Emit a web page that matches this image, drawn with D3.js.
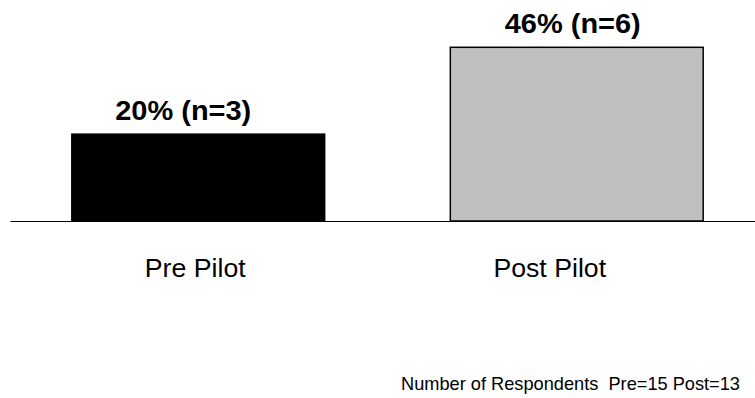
<!DOCTYPE html>
<html>
<head>
<meta charset="utf-8">
<script src="https://cdn.jsdelivr.net/npm/d3@7"></script>
<style>
  html, body { margin: 0; padding: 0; background: #fff; }
  svg { display: block; font-family: "Liberation Sans", Arial, sans-serif; }
</style>
</head>
<body>
<svg id="chart" width="755" height="398"></svg>
<script>
// Respondent groups and results
const categories = ["Pre Pilot", "Post Pilot"];
const counts = [3, 6];          // respondents answering yes (n)
const percents = [20, 46];      // share of respondents, %
const totals = [15, 13];        // respondents per group
const fills = ["#000000", "#c0c0c0"];

const svg = d3.select("#chart");
const W = 755, H = 398;

const x = d3.scaleBand()
  .domain(categories)
  .range([9, 766])
  .paddingInner(0.332)
  .paddingOuter(0.166);

const y = d3.scaleLinear()
  .domain([0, 6])
  .range([221, 47.3]);

// bars
svg.selectAll("rect.bar")
  .data(categories)
  .join("rect")
  .attr("class", "bar")
  .attr("x", d => x(d))
  .attr("width", x.bandwidth())
  .attr("y", (d, i) => y(counts[i]))
  .attr("height", (d, i) => y(0) - y(counts[i]))
  .attr("fill", (d, i) => fills[i])
  .attr("stroke", "#000")
  .attr("stroke-width", 1.5);

// baseline
svg.append("line")
  .attr("x1", 10.5).attr("x2", W)
  .attr("y1", y(0) + 0.5).attr("y2", y(0) + 0.5)
  .attr("stroke", "#000")
  .attr("stroke-width", 1);

// value labels above bars
const labelShift = [-15, -4];
svg.selectAll("text.value")
  .data(categories)
  .join("text")
  .attr("class", "value")
  .attr("x", (d, i) => x(d) + x.bandwidth() / 2 + labelShift[i])
  .attr("y", (d, i) => y(counts[i]) - 14)
  .attr("text-anchor", "middle")
  .attr("font-weight", "bold")
  .attr("font-size", 27)
  .attr("textLength", 136)
  .attr("lengthAdjust", "spacingAndGlyphs")
  .text((d, i) => `${percents[i]}% (n=${counts[i]})`);

// category labels
const catShift = [-3, -27];
svg.selectAll("text.cat")
  .data(categories)
  .join("text")
  .attr("class", "cat")
  .attr("x", (d, i) => x(d) + x.bandwidth() / 2 + catShift[i])
  .attr("y", 277)
  .attr("text-anchor", "middle")
  .attr("font-size", 26.7)
  .text(d => d);

// footer note
svg.append("text")
  .attr("x", 740)
  .attr("y", 390)
  .attr("text-anchor", "end")
  .attr("font-size", 19)
  .attr("textLength", 339)
  .attr("lengthAdjust", "spacingAndGlyphs")
  .style("white-space", "pre")
  .text(`Number of Respondents  Pre=${totals[0]} Post=${totals[1]}`);
</script>
</body>
</html>
